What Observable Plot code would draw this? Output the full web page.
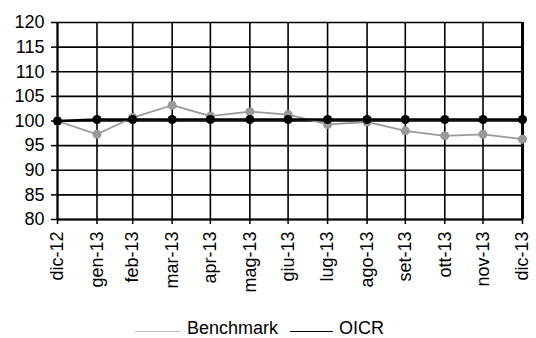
<!DOCTYPE html>
<html><head><meta charset="utf-8">
<script src="https://cdn.jsdelivr.net/npm/d3@7"></script>
<script src="https://cdn.jsdelivr.net/npm/@observablehq/plot@0.6"></script>
<style>
body{margin:0;background:#fff;font-family:Arial,"Liberation Sans",sans-serif;}
#legend{height:19px;padding-top:14px;display:flex;align-items:center;padding-left:135px;font-size:18px;color:#000;}
#legend .sw{display:inline-block;height:0;vertical-align:middle;}
</style></head>
<body>
<div id="chart"></div>
<div id="legend">
  <span class="sw" style="width:45px;border-top:1px solid #bbb;margin-right:7px;margin-top:6px"></span><span>Benchmark</span>
  <span class="sw" style="width:43px;border-top:1px solid #000;margin-left:12px;margin-right:6px;margin-top:6px"></span><span>OICR</span>
</div>
<script>
const dates = ["2012-12-31","2013-01-31","2013-02-28","2013-03-31","2013-04-30","2013-05-31","2013-06-30","2013-07-31","2013-08-31","2013-09-30","2013-10-31","2013-11-30","2013-12-31"];
const labels = ["dic-12","gen-13","feb-13","mar-13","apr-13","mag-13","giu-13","lug-13","ago-13","set-13","ott-13","nov-13","dic-13"];
const benchmark = [100, 97.3, 100.7, 103.2, 101.0, 101.9, 101.3, 99.3, 99.8, 98.0, 97.0, 97.3, 96.3];
const oicr = [100, 100.3, 100.3, 100.3, 100.3, 100.3, 100.3, 100.3, 100.3, 100.3, 100.3, 100.3, 100.3];
const yTicks = [80, 85, 90, 95, 100, 105, 110, 115, 120];

const dt = dates.map(d => new Date(d));
const lab = new Map(dt.map((d, i) => [+d, labels[i]]));
const rows = dt.map((d, i) => ({date: d, value: benchmark[i], series: "Benchmark"}));
const rowsO = dt.map((d, i) => ({date: d, value: oicr[i], series: "OICR"}));

const chart = Plot.plot({
  width: 536,
  height: 305,
  marginTop: 22,
  marginBottom: 86,
  marginLeft: 57,
  marginRight: 14,
  style: {fontSize: "18px", fontFamily: "Arial, 'Liberation Sans', sans-serif", color: "#000", background: "#fff"},
  x: {type: "utc", domain: [dt[0], dt[dt.length - 1]]},
  y: {domain: [80, 120]},
  marks: [
    Plot.gridY(yTicks, {stroke: "#000", strokeOpacity: 1, strokeWidth: 1.6}),
    Plot.gridX(dt, {stroke: "#000", strokeOpacity: 1, strokeWidth: 1.6}),
    Plot.ruleX([dt[dt.length - 1]], {stroke: "#000", strokeWidth: 3}),
    Plot.ruleX([dt[0]], {stroke: "#000", strokeWidth: 2}),
    Plot.ruleY([80], {stroke: "#000", strokeWidth: 2}),
    Plot.axisY(yTicks, {tickSize: 6, tickPadding: 7, label: null, fontSize: 18, strokeWidth: 1.5}),
    Plot.axisX(dt, {tickSize: 5, tickPadding: 7, tickRotate: -90, label: null, fontSize: 18, strokeWidth: 1.5, tickFormat: d => lab.get(+d)}),
    Plot.line(rows, {x: "date", y: "value", stroke: "#999", strokeWidth: 1.8}),
    Plot.dot(rows, {x: "date", y: "value", fill: "#999", r: 4.5}),
    Plot.line(rowsO, {x: "date", y: "value", stroke: "#000", strokeWidth: 2.5}),
    Plot.dot(rowsO, {x: "date", y: "value", fill: "#000", r: 4.5})
  ]
});
document.getElementById("chart").appendChild(chart);
</script>
</body></html>
